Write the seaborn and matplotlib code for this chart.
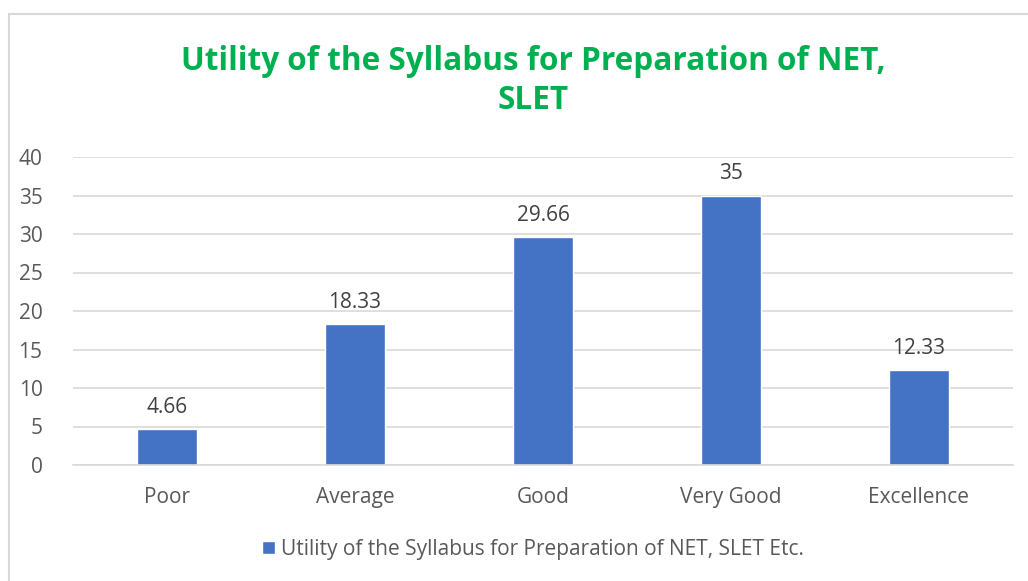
import matplotlib
matplotlib.use("Agg")
import matplotlib.pyplot as plt
import seaborn as sns
import pandas as pd
from matplotlib.patches import Rectangle

categories = ["Poor", "Average", "Good", "Very Good", "Excellence"]
values = [4.66, 18.33, 29.66, 35, 12.33]
labels = ["4.66", "18.33", "29.66", "35", "12.33"]
series_name = "Utility of the Syllabus for Preparation of NET, SLET Etc."
title = "Utility of the Syllabus for Preparation of NET,\nSLET"

sns.set_theme(style="white")
plt.rcParams['font.family'] = ['Open Sans', 'DejaVu Sans']

W, H = 1028, 581
fig = plt.figure(figsize=(W / 100, H / 100), dpi=100)
fig.patch.set_facecolor("white")

# chart border (extends beyond right/bottom)
fig.add_artist(Rectangle((8.5 / W, -0.1), 1.2, 1 - 13.5 / H + 0.1,
                         transform=fig.transFigure, fill=False,
                         edgecolor="#D9D9D9", linewidth=1.5))

ax = fig.add_axes([73 / W, 1 - 465 / H, (1013 - 73) / W, (465 - 157) / H])
df = pd.DataFrame({"cat": categories, "val": values, "series": series_name})
sns.barplot(data=df, x="cat", y="val", hue="series", palette=["#4472C4"],
            width=0.314, ax=ax, saturation=1)

ax.set_ylim(0, 40)
ax.set_yticks(range(0, 41, 5))
ax.set_xlim(-0.5, len(categories) - 0.5)
ax.yaxis.grid(True, color="#D9D9D9", linewidth=1.2)
ax.set_axisbelow(True)
for s in ["top", "right", "left"]:
    ax.spines[s].set_visible(False)
ax.spines["bottom"].set_color("#D9D9D9")
ax.spines["bottom"].set_linewidth(1.2)
ax.set_xlabel("")
ax.set_ylabel("")
ax.tick_params(axis="both", length=0, labelsize=15, colors="#595959")
ax.tick_params(axis="x", pad=16)
ax.tick_params(axis="y", pad=22)
for lab in ax.get_yticklabels():
    lab.set_horizontalalignment("right")

for cont in ax.containers:
    ax.bar_label(cont, labels=labels, padding=8, fontsize=15, color="#404040")

ax.legend_.remove()
handle = Rectangle((0, 0), 1, 1, facecolor="#4472C4")
fig.legend([handle], [series_name], loc="center", bbox_to_anchor=(533 / W, 1 - 549 / H),
           frameon=False, fontsize=15, handlelength=0.6, handleheight=0.6,
           handletextpad=0.3, labelcolor="#595959")

fig.text(533 / W, 1 - 81 / H, title, ha="center", va="center", fontsize=22.7,
         fontweight="bold", color="#00B050", linespacing=1.25)

fig.savefig("out.png", dpi=100)
